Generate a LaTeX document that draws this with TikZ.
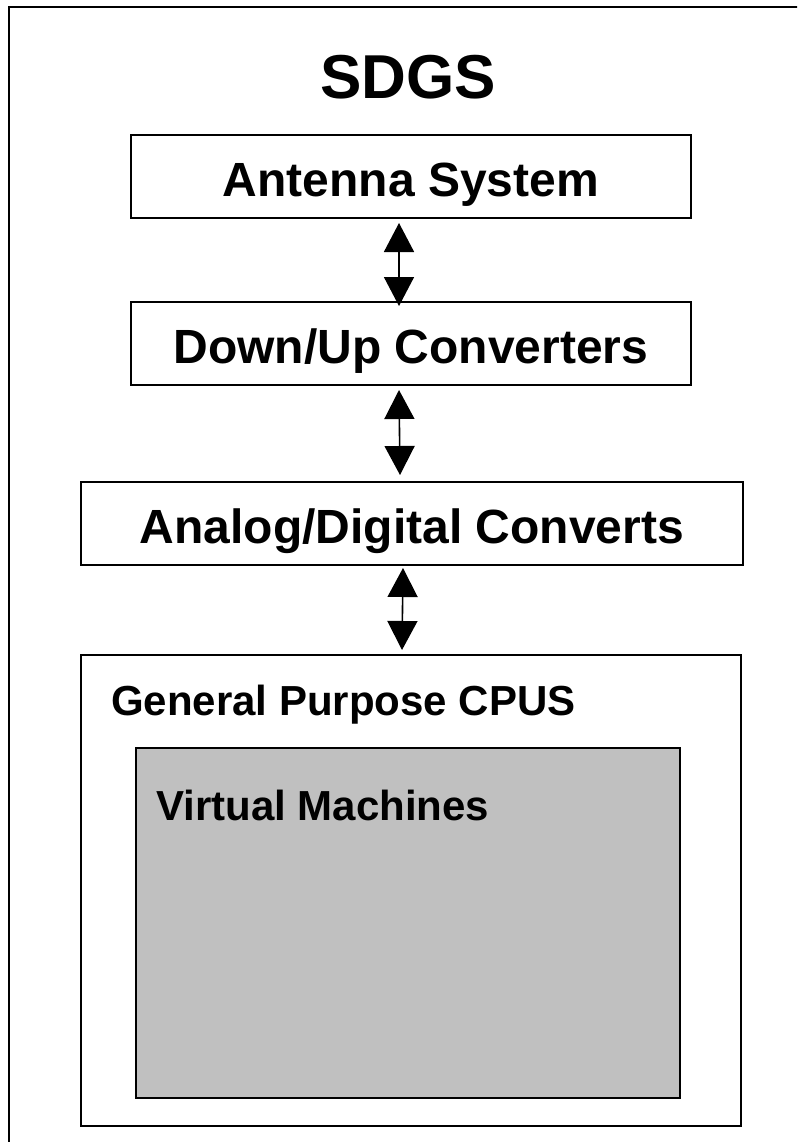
\documentclass[tikz,border=0pt]{standalone}
\usepackage{fontspec}
\setmainfont{Liberation Sans}
\usetikzlibrary{arrows.meta}
\definecolor{vmgray}{RGB}{192,192,192}
\begin{document}
\begin{tikzpicture}[x=1pt,y=-1pt,
  box/.style={draw=black, line width=2pt, rectangle, inner sep=0pt,
    text height=40pt, text depth=0pt,
    font=\fontsize{48}{56}\selectfont\bfseries},
  area/.style={draw=black, line width=2pt, rectangle, inner sep=0pt},
  lbl/.style={inner sep=0pt, font=\fontsize{42}{50}\selectfont\bfseries},
  frame/.style={draw=black, line width=1.8pt},
  link/.style={draw=black, line width=1.6pt,
    {Triangle[width=30pt,length=29pt]}-{Triangle[width=30pt,length=29pt]}}
]
\useasboundingbox (0,0) rectangle (797,1142);
\clip (0,0) rectangle (797,1142);

% outer frame of the ground station
\draw[frame] (9,7) rectangle (840,1180);

% title
\node[anchor=base, inner sep=0pt, font=\fontsize{62}{70}\selectfont\bfseries]
  (title) at (408,99) {SDGS};

% signal chain
\node[box, minimum width=560pt, minimum height=83pt] (ant) at (411,176.5) {Antenna System};
\node[box, minimum width=560pt, minimum height=83pt] (dup) at (411,343.5) {Down/Up Converters};
\node[box, minimum width=662pt, minimum height=83pt] (adc) at (412,523.5) {Analog/Digital Converts};

% processing host
\node[area, minimum width=660pt, minimum height=471pt] (cpu) at (411,890.5) {};
\node[lbl, anchor=base west] (cpulabel) at (111,715) {General Purpose CPUS};
\node[area, fill=vmgray, minimum width=544pt, minimum height=350pt] (vm) at (408,923) {};
\node[lbl, anchor=base west] (vmlabel) at (156,820) {Virtual Machines};

% bidirectional links
\draw[link] ([xshift=-12pt,yshift=-4pt]ant.south) -- ([xshift=-12pt,yshift=-5pt]dup.north);
\draw[link] ([xshift=-12pt,yshift=-4pt]dup.south) -- ([xshift=-12pt,yshift=6pt]adc.north);
\draw[link] ([xshift=-9pt,yshift=-2pt]adc.south) -- ([xshift=-9pt,yshift=4pt]cpu.north);
\end{tikzpicture}
\end{document}
